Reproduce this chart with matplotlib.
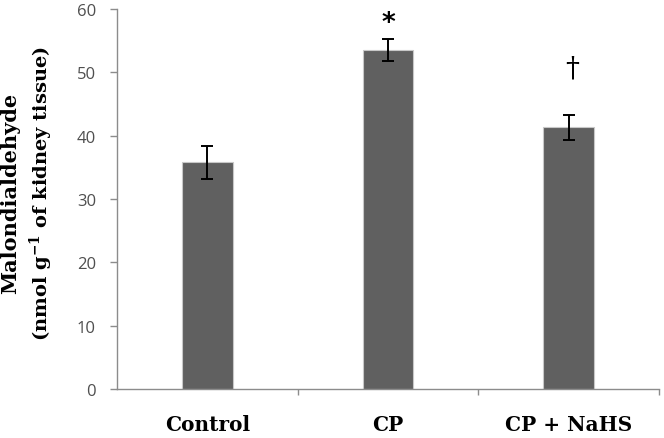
import matplotlib

matplotlib.use("Agg")

import matplotlib.pyplot as plt  # noqa: E402

groups = ["Control", "CP", "CP + NaHS"]
mda = [35.8, 53.5, 41.3]
mda_err = [2.6, 1.7, 2.0]
marks = ["", "*", "\u2020"]

axis_grey = "#8c8c8c"
tick_text = "#4f4f4f"

plt.rcParams["mathtext.fontset"] = "custom"
plt.rcParams["mathtext.bf"] = "DejaVu Serif:bold"
plt.rcParams["mathtext.rm"] = "DejaVu Serif:bold"

fig = plt.figure(figsize=(6.64, 4.39), dpi=100)
ax = fig.add_axes([0.176, 0.1116, 0.8165, 0.8655])

x = range(len(groups))
ax.bar(x, mda, width=0.28, color="#606060", edgecolor="#c8c8c8", linewidth=0.8)
ax.errorbar(x, mda, yerr=mda_err, fmt="none", ecolor="black",
            elinewidth=1.4, capsize=4.3, capthick=1.4)

for i, (m, e, s) in enumerate(zip(mda, mda_err, marks)):
    if s == "*":
        ax.text(i, m + e + 2.6, s, ha="center", va="center",
                fontsize=19, fontweight="bold", family="DejaVu Sans")
    elif s:
        ax.text(i + 0.02, m + e + 7.4, s, ha="center", va="center",
                fontsize=20, family="DejaVu Serif")

ax.set_xlim(-0.5, 2.5)
ax.set_ylim(0, 60)
ax.set_yticks(range(0, 61, 10))
ax.set_xticks(list(x))
ax.set_xticklabels(groups, fontsize=14.5, fontweight="bold",
                   family="DejaVu Serif")
ax.set_xticks([0.5, 1.5, 2.5], minor=True)
ax.tick_params(axis="x", which="major", length=0, pad=18)
ax.tick_params(axis="x", which="minor", length=4, color=axis_grey, width=1)
ax.tick_params(axis="y", length=5, color=axis_grey, width=1, pad=10,
               labelsize=12, labelcolor=tick_text)
for lab in ax.get_yticklabels():
    lab.set_family("Open Sans")

for side in ["top", "right"]:
    ax.spines[side].set_visible(False)
for side in ["left", "bottom"]:
    ax.spines[side].set_color(axis_grey)
    ax.spines[side].set_linewidth(1)

fig.text(0.016, 0.56, "Malondialdehyde", rotation=90, ha="center", va="center",
         fontsize=15, fontweight="bold", family="DejaVu Serif")
fig.text(0.062, 0.56, "(nmol g$^{\\mathbf{-1}}$ of kidney tissue)", rotation=90,
         ha="center", va="center", fontsize=14, fontweight="bold",
         family="DejaVu Serif")

fig.savefig("out.png", dpi=100)
